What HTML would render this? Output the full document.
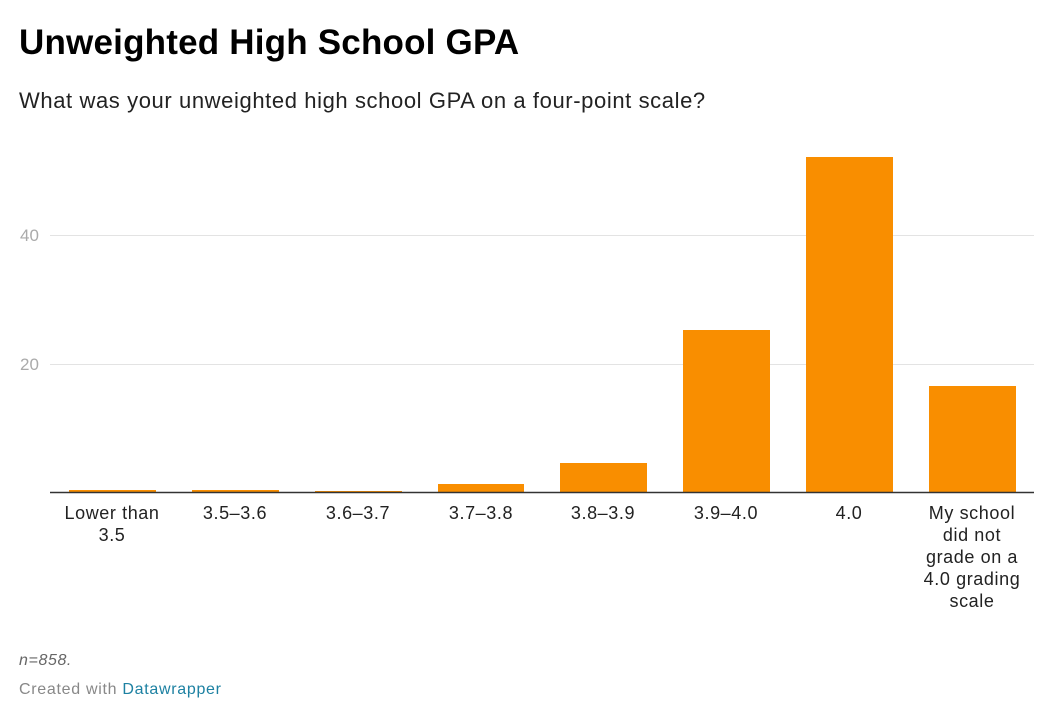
<!DOCTYPE html>
<html><head><style>
body{margin:0;width:1054px;height:716px;background:#fff;font-family:"Liberation Sans",Arial,sans-serif;position:relative;overflow:hidden}
.t{position:absolute;left:19px;top:23px;font-size:35px;font-weight:bold;color:#000;letter-spacing:0.2px}
.s{position:absolute;left:19px;top:88px;font-size:22px;color:#222;letter-spacing:0.6px}
.n{position:absolute;left:19px;top:652px;font-size:16px;font-style:italic;color:#666;letter-spacing:0.6px}
.c{position:absolute;left:19px;top:681px;font-size:16px;color:#888;letter-spacing:0.7px}
.c span{color:#1d81a2}
</style></head><body>
<div class="t">Unweighted High School GPA</div>
<div class="s">What was your unweighted high school GPA on a four-point scale?</div>
<svg width="1054" height="716" style="position:absolute;left:0;top:0">
<g stroke="#e3e3e3" stroke-width="1"><line x1="50" x2="1034" y1="235.5" y2="235.5"/><line x1="50" x2="1034" y1="364.5" y2="364.5"/></g>
<g font-size="17" fill="#aaa" font-family="Liberation Sans,Arial,sans-serif"><text x="20" y="241">40</text><text x="20" y="370">20</text></g>
<g fill="#f98e00">
<rect x="69" y="490" width="87" height="3"/>
<rect x="192" y="490" width="87" height="3"/>
<rect x="315" y="491" width="87" height="2"/>
<rect x="438" y="484" width="86" height="9"/>
<rect x="560" y="463" width="87" height="30"/>
<rect x="683" y="330" width="87" height="163"/>
<rect x="806" y="157" width="87" height="336"/>
<rect x="929" y="386" width="87" height="107"/>
</g>
<line x1="50" x2="1034" y1="492.5" y2="492.5" stroke="#333" stroke-width="1.5"/>
<g font-size="18" fill="#222" text-anchor="middle" letter-spacing="0.6" font-family="Liberation Sans,Arial,sans-serif">
<text x="112" y="519">Lower than</text><text x="112" y="541">3.5</text>
<text x="235" y="519">3.5–3.6</text>
<text x="358" y="519">3.6–3.7</text>
<text x="481" y="519">3.7–3.8</text>
<text x="603" y="519">3.8–3.9</text>
<text x="726" y="519">3.9–4.0</text>
<text x="849" y="519">4.0</text>
<text x="972" y="519">My school</text><text x="972" y="541">did not</text><text x="972" y="563">grade on a</text><text x="972" y="585">4.0 grading</text><text x="972" y="607">scale</text>
</g>
</svg>
<div class="n">n=858.</div>
<div class="c">Created with <span>Datawrapper</span></div>
</body></html>
